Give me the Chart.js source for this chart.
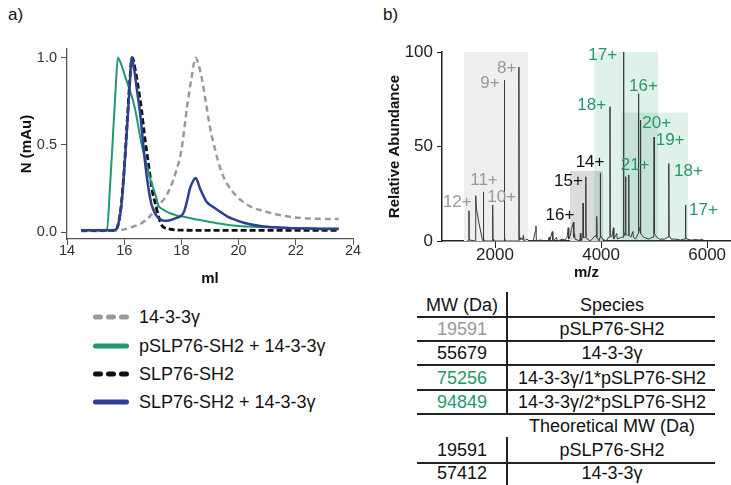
<!DOCTYPE html>
<html><head><meta charset="utf-8">
<script src="https://cdn.jsdelivr.net/npm/chart.js@4.4.1/dist/chart.umd.min.js"></script>
<style>
html,body{margin:0;padding:0;background:#fff;}
body{width:731px;height:485px;position:relative;overflow:hidden;font-family:'Liberation Sans',Arial,sans-serif;color:#111;}
canvas{position:absolute;}
#cA{left:0;top:0;}
#cB{left:380px;top:0;}
.pl{position:absolute;font-size:17px;line-height:20px;}
.leg{position:absolute;left:93px;height:20px;font-size:18px;line-height:20px;white-space:nowrap;}
.leg svg{position:absolute;left:0;top:5px;}
.leg span{position:absolute;left:46px;top:0;}
.cell{position:absolute;font-size:18px;line-height:20px;text-align:center;white-space:nowrap;transform:translateX(-50%);}
.hl{position:absolute;background:#222;height:1.5px;}
.vl{position:absolute;background:#222;width:1.5px;}
</style></head><body>
<div class="pl" style="left:8px;top:5px">a)</div>
<div class="pl" style="left:383px;top:5px">b)</div>
<canvas id="cA" width="380" height="290"></canvas>
<canvas id="cB" width="351" height="290"></canvas>
<div id="legA"></div>
<div id="tbl"></div>
<script>
// ---------- Panel a: elution profiles ----------
const seriesNames = ['14-3-3γ', 'pSLP76-SH2 + 14-3-3γ', 'SLP76-SH2', 'SLP76-SH2 + 14-3-3γ'];

const ml1433 = [14.5, 15.0, 15.5, 15.9, 16.3, 16.6, 16.9, 17.2, 17.4, 17.6, 17.8, 18.0, 18.2, 18.35, 18.5, 18.6, 18.71, 18.85, 19.0, 19.2, 19.35, 19.55, 19.8, 20.1, 20.5, 21.0, 21.5, 22.2, 22.8, 23.5];
const n1433  = [0.005, 0.006, 0.008, 0.012, 0.03, 0.05, 0.09, 0.155, 0.19, 0.25, 0.34, 0.47, 0.72, 0.88, 1.0, 0.96, 0.885, 0.75, 0.6, 0.46, 0.37, 0.29, 0.23, 0.18, 0.14, 0.115, 0.095, 0.08, 0.076, 0.075];

const mlPMix = [14.5, 15.0, 15.4, 15.5, 15.6, 15.7, 15.78, 15.9, 16.0, 16.1, 16.2, 16.3, 16.4, 16.5, 16.6, 16.7, 16.8, 16.9, 17.0, 17.1, 17.2, 17.3, 17.4, 17.5, 17.6, 17.8, 18.0, 18.3, 18.6, 19.0, 19.4, 19.8, 20.5, 21.0, 22.0, 23.0, 23.5];
const nPMix  = [0.01, 0.01, 0.015, 0.25, 0.53, 0.82, 1.0, 0.96, 0.91, 0.86, 0.81, 0.76, 0.69, 0.6, 0.51, 0.44, 0.38, 0.31, 0.26, 0.21, 0.15, 0.135, 0.125, 0.115, 0.108, 0.097, 0.09, 0.08, 0.07, 0.058, 0.047, 0.038, 0.03, 0.027, 0.023, 0.02, 0.02];

const mlSlp = [14.5, 15.0, 15.7, 15.8, 15.9, 16.0, 16.1, 16.2, 16.28, 16.4, 16.5, 16.6, 16.7, 16.84, 17.0, 17.08, 17.2, 17.31, 17.4, 17.5, 17.8, 18.5, 20.0, 22.0, 23.5];
const nSlp  = [0.01, 0.01, 0.01, 0.05, 0.16, 0.36, 0.62, 0.88, 1.0, 0.92, 0.82, 0.71, 0.57, 0.4, 0.22, 0.17, 0.09, 0.04, 0.025, 0.02, 0.012, 0.01, 0.01, 0.01, 0.01];

const mlSMix = [14.5, 15.0, 15.68, 15.8, 15.9, 16.0, 16.1, 16.2, 16.26, 16.35, 16.45, 16.55, 16.65, 16.73, 16.85, 16.96, 17.1, 17.25, 17.4, 17.5, 17.65, 17.8, 18.0, 18.1, 18.2, 18.3, 18.4, 18.5, 18.65, 18.88, 19.1, 19.35, 19.6, 19.8, 20.05, 20.4, 20.75, 21.0, 21.5, 22.0, 22.5, 23.0, 23.5];
const nSMix  = [0.01, 0.01, 0.012, 0.05, 0.15, 0.35, 0.6, 0.86, 1.0, 0.93, 0.81, 0.69, 0.53, 0.4, 0.25, 0.155, 0.1, 0.075, 0.065, 0.065, 0.07, 0.08, 0.094, 0.12, 0.18, 0.25, 0.29, 0.31, 0.25, 0.174, 0.145, 0.117, 0.09, 0.075, 0.06, 0.045, 0.035, 0.03, 0.025, 0.022, 0.02, 0.018, 0.018];

const xTicksA = [14, 16, 18, 20, 22, 24];
const yTicksA = [0, 0.5, 1];
const yTickLabelsA = ['0.0', '0.5', '1.0'];

// ---------- Panel b: native MS spectrum ----------
const specMz = [1470, 1504, 1509, 1513, 1520, 1630, 1636, 1650, 1700, 1760, 1776, 1780, 1786, 1800, 1950, 1956, 1962, 1975, 2170, 2176, 2182, 2195, 2444, 2450, 2456, 2470, 2500, 2520, 2534, 2550, 2600, 2650, 2720, 2760, 2772, 2780, 2850, 3000, 3019, 3030, 3080, 3090, 3160, 3170, 3283, 3300, 3360, 3380, 3390, 3420, 3440, 3478, 3486, 3500, 3510, 3600, 3610, 3620, 3655, 3660, 3668, 3706, 3712, 3718, 3740, 3800, 3890, 3912, 3918, 3925, 3960, 3980, 3985, 3991, 4030, 4100, 4140, 4162, 4168, 4174, 4200, 4233, 4240, 4296, 4305, 4380, 4417, 4423, 4429, 4445, 4456, 4462, 4468, 4500, 4516, 4522, 4528, 4560, 4600, 4610, 4650, 4699, 4705, 4711, 4735, 4739, 4745, 4752, 4800, 4900, 4960, 4994, 5000, 5006, 5050, 5100, 5200, 5250, 5271, 5277, 5283, 5320, 5400, 5500, 5560, 5586, 5592, 5598, 5620, 5700, 5800, 5850, 5900, 5950];
const specAb = [0, 0, 16, 1, 0.5, 0, 24, 17, 9, 1, 0, 26, 1, 0, 0, 19, 1, 0, 0, 85, 2, 0, 0, 92, 2, 0.5, 1.5, 0.5, 3, 0, 1, 0, 0, 5, 8, 0, 0.5, 0, 2, 0, 5, 0, 2, 0, 1, 0, 2, 7, 1, 3, 6, 10, 2, 4, 1, 0, 4, 0, 2, 20, 2, 2, 34, 2, 1, 0, 3, 2, 13, 2, 0, 2, 36, 3, 1, 0, 2, 2, 71, 3, 2, 7, 1, 4, 1, 2, 2, 100, 5, 3, 3, 34, 4, 3, 3, 35, 3, 2, 5, 2, 1, 4, 78, 8, 5, 5, 64, 4, 2, 1, 2, 2, 55, 4, 2, 1, 1, 2, 2, 41, 3, 1, 1, 0.5, 1, 1, 19, 2, 1, 0.5, 0.8, 0.5, 1, 0];

const boxStart = [1415, 3415, 3870, 4380];
const boxEnd   = [2620, 4035, 5075, 5640];
const boxTop   = [100, 37, 100, 68];

const chargeText  = ['12+', '11+', '10+', '9+', '8+', '16+', '15+', '14+', '18+', '17+', '16+', '21+', '20+', '19+', '18+', '17+'];
const chargeMz    = [1289, 1792, 2126, 1906, 2220, 3226, 3384, 3792, 3824, 4032, 4799, 4642, 5050, 5302, 5648, 5931];
const chargeAb    = [20.3, 32, 23, 83.4, 91.4, 13.8, 31.4, 41.4, 72, 98.4, 82, 40, 62.3, 53.4, 36.7, 16.4];
const chargeGroup = ['p', 'p', 'p', 'p', 'p', 'g', 'g', 'g', 'c', 'c', 'c', 'c', 'c', 'c', 'c', 'c'];

const xTicksB = [2000, 4000, 6000];
const yTicksB = [0, 50, 100];

// ---------- Table ----------
const tblHeader = ['MW (Da)', 'Species'];
const tblMw      = ['19591', '55679', '75256', '94849', '', '19591', '57412'];
const tblSpecies = ['pSLP76-SH2', '14-3-3γ', '14-3-3γ/1*pSLP76-SH2', '14-3-3γ/2*pSLP76-SH2', 'Theoretical MW (Da)', 'pSLP76-SH2', '14-3-3γ'];
const tblMwGroup = ['p', 'g', 'c', 'c', '', 'g', 'g'];

// ---------- styles ----------
const GREEN = '#22996b', BLUE = '#2c3f92', GRAY = '#9a9a9a', BLACK = '#111';
const groupColor = {p: '#999999', g: '#111111', c: '#23996b'};
const lineStyles = [
  {color: GRAY, dash: [6, 4], width: 2.5, order: 4},
  {color: GREEN, dash: [], width: 2, order: 2},
  {color: BLACK, dash: [6, 3], width: 2.8, order: 3},
  {color: BLUE, dash: [], width: 2.5, order: 1}
];
const boxColors = ['#efefef', '#dcdcdc', 'rgba(0,140,80,0.12)', 'rgba(0,140,80,0.12)'];
const FONT = "'Liberation Sans', Arial, sans-serif";
Chart.defaults.font.family = FONT;

const pts = (xs, ys) => xs.map((x, i) => ({x: x, y: ys[i]}));
const seriesData = [pts(ml1433, n1433), pts(mlPMix, nPMix), pts(mlSlp, nSlp), pts(mlSMix, nSMix)];

new Chart(document.getElementById('cA'), {
  type: 'line',
  data: {datasets: seriesNames.map((n, i) => ({
    label: n, data: seriesData[i], borderColor: lineStyles[i].color, borderDash: lineStyles[i].dash,
    borderWidth: lineStyles[i].width, order: lineStyles[i].order, pointRadius: 0, fill: false,
    cubicInterpolationMode: 'monotone'
  }))},
  options: {
    responsive: false, animation: false, devicePixelRatio: 1,
    layout: {padding: {left: 0, top: 49, right: 27, bottom: 0}},
    plugins: {legend: {display: false}, tooltip: {enabled: false}},
    scales: {
      x: {type: 'linear', min: 14, max: 24,
        afterBuildTicks: s => { s.ticks = xTicksA.map(v => ({value: v})); },
        afterFit: s => { s.height = 51; },
        grid: {drawOnChartArea: false, tickLength: 6, color: '#555'},
        border: {color: '#555', width: 1.3},
        ticks: {font: {size: 14.5}, color: '#333', padding: -3, maxRotation: 0, autoSkip: false, callback: v => String(v)},
        title: {display: true, text: 'ml', font: {size: 15, weight: 'bold'}, color: '#111', padding: {top: 0, bottom: 2}}
      },
      y: {type: 'linear', min: -0.04, max: 1.05,
        afterBuildTicks: s => { s.ticks = yTicksA.map(v => ({value: v})); },
        afterFit: s => { s.width = 67; },
        grid: {drawOnChartArea: false, tickLength: 6, color: '#555'},
        border: {color: '#555', width: 1.3},
        ticks: {font: {size: 14.5}, color: '#333', padding: 4, callback: v => yTickLabelsA[yTicksA.indexOf(v)]},
        title: {display: true, text: 'N (mAu)', font: {size: 15, weight: 'bold'}, color: '#111', padding: {top: 18, bottom: 0}}
      }
    }
  }
});

// legend for panel a
const legA = document.getElementById('legA');
const legTop = [307, 336, 364, 392];
seriesNames.forEach((n, i) => {
  const st = lineStyles[i];
  const dash = st.dash.length ? 'stroke-dasharray="5 8"' : '';
  const d = document.createElement('div');
  d.className = 'leg';
  d.style.top = legTop[i] + 'px';
  d.innerHTML = '<svg width="40" height="10"><line x1="2.5" y1="5" x2="33.5" y2="5" stroke="' + st.color +
    '" stroke-width="5" stroke-linecap="round" ' + dash + '/></svg><span>' + n + '</span>';
  legA.appendChild(d);
});

// panel b
const boxSets = boxStart.map((s, i) => ({
  data: [{x: s, y: boxTop[i]}, {x: boxEnd[i], y: boxTop[i]}],
  fill: 'origin', backgroundColor: boxColors[i], borderColor: 'rgba(0,0,0,0)', borderWidth: 0,
  pointRadius: 0, order: 10 - i, tension: 0
}));
const chargePlugin = {
  id: 'charges',
  afterDatasetsDraw(chart) {
    const c = chart.ctx, xs = chart.scales.x, ys = chart.scales.y;
    c.save();
    c.font = '17px ' + FONT;
    c.textAlign = 'center';
    c.textBaseline = 'middle';
    chargeText.forEach((t, i) => {
      c.fillStyle = groupColor[chargeGroup[i]];
      c.fillText(t, xs.getPixelForValue(chargeMz[i]), ys.getPixelForValue(chargeAb[i]));
    });
    c.restore();
  }
};
new Chart(document.getElementById('cB'), {
  type: 'line',
  data: {datasets: [{data: pts(specMz, specAb), borderColor: '#3a3a3a', borderWidth: 1, pointRadius: 0, tension: 0, fill: false, order: 0}].concat(boxSets)},
  options: {
    responsive: false, animation: false, devicePixelRatio: 1,
    layout: {padding: {left: 0, top: 52, right: 0, bottom: 0}},
    plugins: {legend: {display: false}, tooltip: {enabled: false}},
    scales: {
      x: {type: 'linear', min: 1000, max: 6450,
        afterBuildTicks: s => { s.ticks = xTicksB.map(v => ({value: v})); },
        afterFit: s => { s.height = 49; },
        grid: {drawOnChartArea: false, tickLength: 7, color: '#222'},
        border: {color: '#222', width: 1.5},
        ticks: {font: {size: 17}, color: '#222', padding: -3, maxRotation: 0, autoSkip: false, callback: v => String(v)},
        title: {display: true, text: 'm/z', font: {size: 15, weight: 'bold'}, color: '#111', padding: {top: 0, bottom: 8}}
      },
      y: {type: 'linear', min: 0, max: 100,
        afterBuildTicks: s => { s.ticks = yTicksB.map(v => ({value: v})); },
        afterFit: s => { s.width = 62; },
        grid: {drawOnChartArea: false, tickLength: 5, color: '#222'},
        border: {color: '#222', width: 1.5},
        ticks: {font: {size: 17}, color: '#222', padding: 4, callback: v => String(v)},
        title: {display: true, text: 'Relative Abundance', font: {size: 15, weight: 'bold'}, color: '#111', padding: {top: 6, bottom: 0}}
      }
    }
  },
  plugins: [chargePlugin]
});

// table
const tbl = document.getElementById('tbl');
const rowCenters = [305, 329, 353, 378, 402, 426, 450, 473];
const col1 = 462, col2 = 612;
function cell(text, x, y, color) {
  const d = document.createElement('div');
  d.className = 'cell';
  d.style.left = x + 'px';
  d.style.top = (y - 10) + 'px';
  d.style.color = color;
  d.textContent = text;
  tbl.appendChild(d);
}
cell(tblHeader[0], col1, rowCenters[0], '#111');
cell(tblHeader[1], col2, rowCenters[0], '#111');
tblMw.forEach((m, i) => {
  if (m) cell(m, col1, rowCenters[i + 1], groupColor[tblMwGroup[i]] );
  cell(tblSpecies[i], col2, rowCenters[i + 1], '#111');
});
const hLines = [316, 340, 364, 389, 413, 462];
hLines.forEach((y, i) => {
  const d = document.createElement('div');
  d.className = 'hl';
  d.style.left = '417px'; d.style.width = '298px'; d.style.top = y + 'px';
  if (i === 2) d.style.height = '2px';
  tbl.appendChild(d);
});
[[292, 413], [437, 485]].forEach(([a, b]) => {
  const d = document.createElement('div');
  d.className = 'vl';
  d.style.left = '506px'; d.style.top = a + 'px'; d.style.height = (b - a) + 'px';
  tbl.appendChild(d);
});
</script>
</body></html>
